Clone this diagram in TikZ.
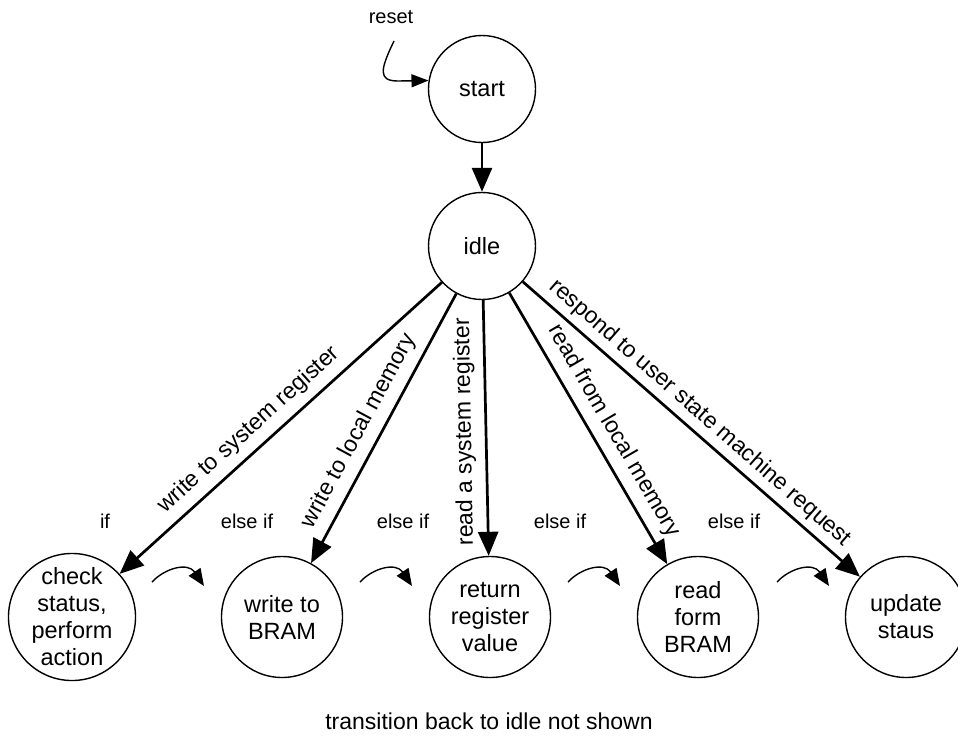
\documentclass[tikz,border=0pt]{standalone}
\usepackage{fontspec}
\setmainfont{Liberation Sans}
\usetikzlibrary{arrows.meta}
\begin{document}
\begin{tikzpicture}[x=1pt,y=-1pt,
  state/.style={circle, draw, line width=1.4pt, inner sep=0pt, align=center,
    font=\fontsize{23.5}{27}\selectfont},
  smallstate/.style={state, minimum size=107pt},
  bigstate/.style={state, minimum size=121pt},
  trans/.style={line width=2.7pt, -{Triangle[length=24pt,width=20pt]}},
  hint/.style={line width=1.4pt, -{Triangle[length=17pt,width=14pt]}},
  resetarrow/.style={line width=1.4pt, -{Triangle[length=17pt,width=13pt]}},
  elabel/.style={font=\fontsize{23}{27}\selectfont, inner sep=0pt},
  cond/.style={font=\fontsize{20}{24}\selectfont, inner sep=0pt},
]
\useasboundingbox (0,0) rectangle (958,736);

% states
\node[smallstate] (start) at (482,89)  {start};
\node[smallstate] (idle)  at (482,246) {idle};
\node[bigstate] (chk)  at (72,617)  {check\\status,\\perform\\action};
\node[bigstate] (wbr)  at (282,617) {write to\\BRAM};
\node[bigstate] (ret)  at (490,617) {return\\register\\value};
\node[bigstate] (rbr)  at (698,617) {read\\form\\BRAM};
\node[bigstate] (upd)  at (906,617) {update\\staus};

% reset entry
\node[cond] (resetlbl) at (391,17) {reset};
\coordinate (rs) at (394,41);
\draw[resetarrow] (rs) .. controls (380,70) and (378,81) .. (398,81) -- (start.171);

% transitions
\draw[trans] (start) -- (idle);
\draw[trans] (idle) -- (chk);
\draw[trans] (idle) -- (wbr);
\draw[trans] (idle) -- (ret);
\draw[trans] (idle) -- (rbr);
\draw[trans] (idle) -- (upd);

% transition labels
\node[elabel, rotate=42.1]  (l1) at (249,430) {write to system register};
\node[elabel, rotate=61.7]  (l2) at (359,431) {write to local memory};
\node[elabel, rotate=91]    (l3) at (465,432) {read a system register};
\node[elabel, rotate=-59.8] (l4) at (614,431) {read from local memory};
\node[elabel, rotate=-41.2] (l5) at (700,413) {respond to user state machine request};

% priority order
\node[cond] (k1) at (105,521) {if};
\node[cond] (k2) at (247,521) {else if};
\node[cond] (k3) at (403,521) {else if};
\node[cond] (k4) at (560,521) {else if};
\node[cond] (k5) at (734,521) {else if};

\coordinate (a1) at (152,582); \coordinate (b1) at (204,586);
\coordinate (a2) at (360,582); \coordinate (b2) at (412,586);
\coordinate (a3) at (568,582); \coordinate (b3) at (620,586);
\coordinate (a4) at (777,582); \coordinate (b4) at (829,586);
\draw[hint] (a1) .. controls +(13,-14) and +(-16,-24) .. (b1);
\draw[hint] (a2) .. controls +(13,-14) and +(-16,-24) .. (b2);
\draw[hint] (a3) .. controls +(13,-14) and +(-16,-24) .. (b3);
\draw[hint] (a4) .. controls +(13,-14) and +(-16,-24) .. (b4);

\node[elabel] (note) at (489,721) {transition back to idle not shown};
\end{tikzpicture}
\end{document}
